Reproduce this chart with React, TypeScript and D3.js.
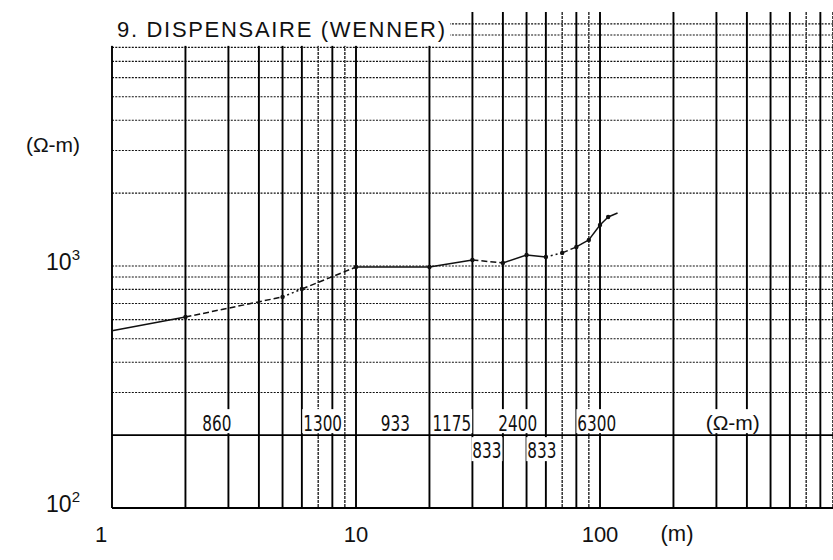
import React from "react"
import * as d3 from "d3"

// electrode spacing (m) and apparent resistivity (ohm-m)
const spacings = [1, 2, 5, 6, 10, 20, 30, 40, 50, 60, 70, 80, 90, 100, 108, 118]
const resistivity = [540, 615, 745, 803, 990, 990, 1059, 1029, 1110, 1089, 1132, 1198, 1281, 1477, 1594, 1655]
// stroke of each piece between two readings
const segmentStyle = [
  "solid", "dashed", "dotted", "dashed", "solid", "solid", "dashed",
  "solid", "solid", "dotted", "dashed", "solid", "solid", "solid", "solid"
]

// interpreted layer resistivities and where their labels sit (m)
const upperLayers = ["860", "1300", "933", "1175", "2400", "6300"]
const upperLayerAt = [2.69, 7.3, 14.5, 24.7, 46, 97]
const lowerLayers = ["833", "833"]
const lowerLayerAt = [34.4, 57.8]
const layerLine = 200

const title = "9.  DISPENSAIRE  (WENNER)"
const xTickLabels = ["1", "10", "100"]
const xTickValues = [1, 10, 100]
const yTickPowers = [3, 2]

const W = 833
const H = 560

const x = d3.scaleLog().domain([1, 1000]).range([112, 844])
const y = d3.scaleLog().domain([100, 11200]).range([508, 12])

const sans = "'Liberation Sans', Arial, sans-serif"
const narrow = "'Liberation Sans Narrow', 'DejaVu Sans Condensed', sans-serif"

const mantissa = (v: number) => Math.round(v / Math.pow(10, Math.floor(Math.log10(v) + 1e-9)))

export default function App() {
  const xGrid = x.ticks().filter(t => t < 1000 && x(t) <= W + 1)
  const yGrid = y.ticks().filter(v => v >= 300 && v <= 10000)
  const pts = spacings.map((s, i) => [x(s), y(resistivity[i])] as [number, number])
  const line = d3.line()

  const dash = (s: string) => (s === "dashed" ? "6 3" : s === "dotted" ? "2 3" : undefined)

  return (
    <svg
      width={W}
      height={H}
      style={{ position: "absolute", left: 0, top: 0, background: "white" }}
    >
      <rect x={0} y={0} width={W} height={H} fill="white" />

      {/* horizontal dotted grid */}
      <g>
        {yGrid.map(v => (
          <line
            key={"h" + v}
            x1={x(1)}
            x2={W}
            y1={y(v)}
            y2={y(v)}
            stroke="#111"
            strokeWidth={1.1}
            strokeDasharray="2 1.3"
          />
        ))}
      </g>

      {/* vertical grid */}
      <g>
        {xGrid.map(t => {
          const m = mantissa(t)
          const light = m === 7 || m === 9
          return (
            <line
              key={"v" + t}
              x1={x(t)}
              x2={x(t)}
              y1={y(11200)}
              y2={y(100)}
              stroke={light ? "#333" : "#000"}
              strokeWidth={light ? 1.5 : 1.9}
              strokeDasharray={light ? "3 1" : undefined}
            />
          )
        })}
      </g>

      {/* layer boundary line and bottom */}
      <line x1={x(1)} x2={W} y1={y(layerLine)} y2={y(layerLine)} stroke="#000" strokeWidth={1.9} />
      <line x1={x(1)} x2={W} y1={y(100)} y2={y(100)} stroke="#000" strokeWidth={1.9} />

      {/* title area */}
      <rect x={x(1) - 14} y={0} width={450 - x(1) + 14} height={y(8000) - 1.5} fill="white" />
      <text
        x={x(1) + 5}
        y={37}
        fontFamily={sans}
        fontSize={22}
        textLength={328}
        lengthAdjust="spacing"
        fill="#111"
      >
        {title}
      </text>

      {/* sounding curve */}
      <g>
        {pts.slice(1).map((p, i) => (
          <path
            key={"s" + i}
            d={line([pts[i], p]) || ""}
            fill="none"
            stroke="#111"
            strokeWidth={1.5}
            strokeDasharray={dash(segmentStyle[i])}
          />
        ))}
        {pts.slice(1, -1).map((p, i) => (
          <circle key={"c" + i} cx={p[0]} cy={p[1]} r={2.2} fill="#111" />
        ))}
      </g>

      {/* layer resistivities */}
      <g fontFamily={narrow} fontSize={21} fill="#111">
        {upperLayers.map((t, i) => {
          const cx = x(upperLayerAt[i])
          const w = t.length * 9.7
          return (
            <g key={"u" + i}>
              <rect x={cx - w / 2 - 1} y={y(layerLine) - 26} width={w + 2} height={24} fill="white" />
              <text
                x={cx - w / 2}
                y={y(layerLine) - 4}
                textLength={w}
                lengthAdjust="spacingAndGlyphs"
              >
                {t}
              </text>
            </g>
          )
        })}
        {lowerLayers.map((t, i) => {
          const cx = x(lowerLayerAt[i])
          const w = t.length * 9.7
          return (
            <g key={"l" + i}>
              <rect x={cx - w / 2 - 1} y={y(layerLine) + 2} width={w + 2} height={24} fill="white" />
              <text
                x={cx - w / 2}
                y={y(layerLine) + 23}
                textLength={w}
                lengthAdjust="spacingAndGlyphs"
              >
                {t}
              </text>
            </g>
          )
        })}
      </g>

      {/* unit label inside the plot */}
      <rect x={x(350) - 34} y={y(layerLine) - 26} width={68} height={24} fill="white" />
      <text x={x(350)} y={y(layerLine) - 5} textAnchor="middle" fontFamily={sans} fontSize={21} fill="#111">
        (Ω-m)
      </text>

      {/* y axis labels */}
      <text x={x(1) - 59} y={y(3000) + 2} textAnchor="middle" fontFamily={sans} fontSize={21} fill="#111">
        (Ω-m)
      </text>
      {yTickPowers.map(p => (
        <text
          key={"y" + p}
          x={x(1) - 32}
          y={y(Math.pow(10, p)) + 4}
          textAnchor="end"
          fontFamily={sans}
          fontSize={23}
          fill="#111"
        >
          10
          <tspan fontSize={15} dy={-10}>{p}</tspan>
        </text>
      ))}

      {/* x axis labels */}
      {xTickValues.map((v, i) => (
        <text
          key={"x" + v}
          x={v === 1 ? x(v) - 11 : x(v)}
          y={y(100) + 34}
          textAnchor="middle"
          fontFamily={sans}
          fontSize={22}
          fill="#111"
        >
          {xTickLabels[i]}
        </text>
      ))}
      <text x={x(100) + 77} y={y(100) + 33} textAnchor="middle" fontFamily={sans} fontSize={22} fill="#111">
        (m)
      </text>
    </svg>
  )
}
